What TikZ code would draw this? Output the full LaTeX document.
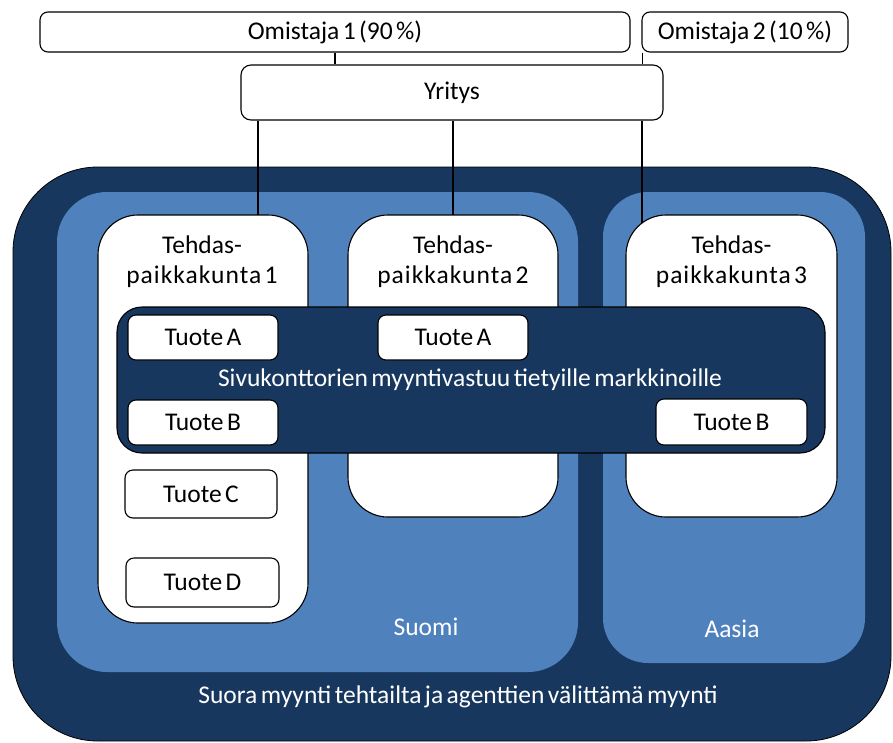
\documentclass[tikz,border=0pt]{standalone}
\usepackage{fontspec}
\setmainfont{Carlito}[WordSpace=0.6]
\newfontfamily\widefont{Carlito}[LetterSpace=4]
\definecolor{navy}{HTML}{17375E}
\definecolor{lblue}{HTML}{4F81BD}
\pgfdeclarelayer{back}
\pgfdeclarelayer{mid}
\pgfsetlayers{back,mid,main}
\tikzset{
  wbox/.style={draw=black, line width=1.1pt, fill=white, rounded corners=#1, inner sep=0pt},
  wbox/.default=8pt,
  region/.style={rounded corners=#1, inner sep=0pt},
  conn/.style={draw=black, line width=1.1pt},
  blk/.style={text=black, font=\fontsize{25.5}{30}\selectfont, align=center},
  wht/.style={text=white, font=\fontsize{25.5}{30}\selectfont, align=center},
}
\begin{document}
\begin{tikzpicture}[x=1pt,y=-1pt]
\useasboundingbox (0,0) rectangle (893,742);
% regions
\begin{pgfonlayer}{back}
\node[region=85pt, fill=navy, draw=black, line width=0.8pt, minimum width=878pt, minimum height=574pt] (outer) at (452,454) {};
\node[region=50pt, fill=lblue, minimum width=521pt, minimum height=480pt] (suomi) at (317.5,432) {};
\node[region=45pt, fill=lblue, minimum width=262pt, minimum height=471pt] (aasia) at (734,427.5) {};
\end{pgfonlayer}
% owners and company
\node[wbox, minimum width=590pt, minimum height=40pt] (o1) at (335,32) {};
\node[wbox, minimum width=206pt, minimum height=40pt] (o2) at (745,32) {};
\node[wbox=10pt, minimum width=422pt, minimum height=55pt] (y) at (452,92.5) {};
\node[blk] (o1t) at (o1.center) {Omistaja 1 (90 \%)};
\node[blk] (o2t) at (o2.center) {Omistaja 2 (10 \%)};
\node[blk] (yt) at (y.center) {Yritys};
% factories
\node[wbox=40pt, minimum width=210pt, minimum height=408pt] (t1) at (203,419) {};
\node[wbox=40pt, minimum width=210pt, minimum height=302pt] (t2) at (453,366) {};
\node[wbox=40pt, minimum width=211pt, minimum height=302pt] (t3) at (731.5,366) {};
\node[blk] (t1t) at (202,262) {Tehdas-\\{\widefont paikkakunta} 1};
\node[blk] (t2t) at (453,262) {Tehdas-\\{\widefont paikkakunta} 2};
\node[blk] (t3t) at (731.5,262) {Tehdas-\\{\widefont paikkakunta} 3};
% sales offices band
\node[region=25pt, fill=navy, draw=black, line width=1.1pt, minimum width=708pt, minimum height=146pt] (sivu) at (471,380) {};
\node[wht] (sivut) at (470,380) {Sivukonttorien myyntivastuu tietyille markkinoille};
% products
\node[wbox, minimum width=150pt, minimum height=45pt, blk] (a1) at (203,337.5) {Tuote A};
\node[wbox, minimum width=150pt, minimum height=45pt, blk] (a2) at (453,337.5) {Tuote A};
\node[wbox, minimum width=150pt, minimum height=45pt, blk] (b1) at (203,422.5) {Tuote B};
\node[wbox, minimum width=151pt, minimum height=46pt, blk] (b3) at (731.5,422) {Tuote B};
\node[wbox, minimum width=152pt, minimum height=48pt, blk] (c1) at (201,494) {Tuote C};
\node[wbox, minimum width=153pt, minimum height=49pt, blk] (d1) at (202.5,582.5) {Tuote D};
% region labels
\node[wht] (suomit) at (426,627) {Suomi};
\node[wht] (aasiat) at (732,629) {Aasia};
\node[wht] (suorat) at (458,697) {Suora myynti tehtailta ja agenttien välittämä myynti};
% connectors
\begin{pgfonlayer}{mid}
\draw[conn] (o1.south) -- (o1.south |- y.north);
\coordinate (o2c) at ([xshift=1pt]o2.south west);
\draw[conn] (o2c) -- (o2c |- y.north);
\coordinate (t1c) at ([xshift=55pt,yshift=-10pt]t1.north);
\draw[conn] (t1c |- y.south) -- (t1c);
\coordinate (t2c) at ([yshift=-10pt]t2.north);
\draw[conn] (t2c |- y.south) -- (t2c);
\coordinate (t3c) at ([xshift=-89.5pt,yshift=-15pt]t3.north);
\draw[conn] (t3c |- y.south) -- (t3c);
\end{pgfonlayer}
\end{tikzpicture}
\end{document}
